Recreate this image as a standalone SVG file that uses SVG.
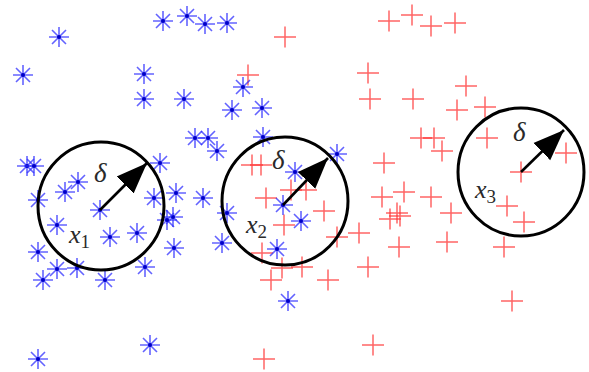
<svg xmlns="http://www.w3.org/2000/svg" xmlns:xlink="http://www.w3.org/1999/xlink" width="589" height="372" viewBox="0 0 589 372">
<style>
.ring{fill:none;stroke:#000;stroke-width:3}
.arr{stroke:#000;stroke-width:2.6;fill:none}
.lbl{font-family:"Liberation Serif","Times New Roman",serif;font-style:italic;fill:#2a2a2a}
.d{font-size:27px}
.x{font-size:26px}
.sub{font-style:normal;font-size:19px}
</style>
<defs>
<g id="s">
<path d="M-10,0H10M0,-10V10M-7,-7L7,7M-7,7L7,-7" stroke="#2f2fff" stroke-opacity="0.75" stroke-width="1.6" fill="none"/>
<circle r="2" fill="#0000c8"/>
</g>
<path id="p" d="M-11,0H11M0,-10.5V10.5" stroke="#ff3030" stroke-opacity="0.75" stroke-width="1.5" fill="none"/>
<marker id="ah" markerUnits="userSpaceOnUse" markerWidth="32" markerHeight="26" viewBox="0 0 32 26" refX="31" refY="13" orient="auto">
<path d="M0,1 L31,13 L0,25 Z" fill="#000"/>
</marker>
</defs>
<rect width="589" height="372" fill="#fff"/>
<g id="points-red">
<use xlink:href="#p" x="285" y="37"/>
<use xlink:href="#p" x="389" y="21"/>
<use xlink:href="#p" x="412" y="15"/>
<use xlink:href="#p" x="431" y="26"/>
<use xlink:href="#p" x="455" y="23"/>
<use xlink:href="#p" x="248" y="75"/>
<use xlink:href="#p" x="368" y="73"/>
<use xlink:href="#p" x="370" y="99"/>
<use xlink:href="#p" x="413" y="99"/>
<use xlink:href="#p" x="466" y="86"/>
<use xlink:href="#p" x="457" y="110"/>
<use xlink:href="#p" x="485" y="107"/>
<use xlink:href="#p" x="252" y="165"/>
<use xlink:href="#p" x="261" y="165"/>
<use xlink:href="#p" x="421" y="138"/>
<use xlink:href="#p" x="434" y="138"/>
<use xlink:href="#p" x="442" y="151"/>
<use xlink:href="#p" x="487" y="138"/>
<use xlink:href="#p" x="566" y="153"/>
<use xlink:href="#p" x="384" y="163"/>
<use xlink:href="#p" x="521" y="172"/>
<use xlink:href="#p" x="404" y="192"/>
<use xlink:href="#p" x="431" y="197"/>
<use xlink:href="#p" x="382" y="197"/>
<use xlink:href="#p" x="390" y="219"/>
<use xlink:href="#p" x="400" y="216"/>
<use xlink:href="#p" x="397" y="213"/>
<use xlink:href="#p" x="451" y="213"/>
<use xlink:href="#p" x="507" y="206"/>
<use xlink:href="#p" x="524" y="222"/>
<use xlink:href="#p" x="447" y="242"/>
<use xlink:href="#p" x="399" y="247"/>
<use xlink:href="#p" x="504" y="247"/>
<use xlink:href="#p" x="512" y="301"/>
<use xlink:href="#p" x="373" y="345"/>
<use xlink:href="#p" x="264" y="359"/>
<use xlink:href="#p" x="266" y="198"/>
<use xlink:href="#p" x="324" y="211"/>
<use xlink:href="#p" x="284" y="225"/>
<use xlink:href="#p" x="337" y="237"/>
<use xlink:href="#p" x="359" y="233"/>
<use xlink:href="#p" x="262" y="253"/>
<use xlink:href="#p" x="282" y="268"/>
<use xlink:href="#p" x="302" y="267"/>
<use xlink:href="#p" x="271" y="280"/>
<use xlink:href="#p" x="328" y="280"/>
<use xlink:href="#p" x="368" y="267"/>
<use xlink:href="#p" x="291" y="190"/>
<use xlink:href="#p" x="306" y="190"/>
</g>
<g id="points-blue">
<use xlink:href="#s" x="59" y="37"/>
<use xlink:href="#s" x="163" y="21"/>
<use xlink:href="#s" x="187" y="16"/>
<use xlink:href="#s" x="205" y="24"/>
<use xlink:href="#s" x="227" y="23"/>
<use xlink:href="#s" x="23" y="75"/>
<use xlink:href="#s" x="144" y="74"/>
<use xlink:href="#s" x="144" y="99"/>
<use xlink:href="#s" x="184" y="99"/>
<use xlink:href="#s" x="243" y="87"/>
<use xlink:href="#s" x="232" y="110"/>
<use xlink:href="#s" x="262" y="108"/>
<use xlink:href="#s" x="195" y="138"/>
<use xlink:href="#s" x="208" y="138"/>
<use xlink:href="#s" x="217" y="151"/>
<use xlink:href="#s" x="263" y="137"/>
<use xlink:href="#s" x="27" y="166"/>
<use xlink:href="#s" x="34" y="166"/>
<use xlink:href="#s" x="160" y="163"/>
<use xlink:href="#s" x="78" y="182"/>
<use xlink:href="#s" x="65" y="192"/>
<use xlink:href="#s" x="38" y="200"/>
<use xlink:href="#s" x="100" y="210"/>
<use xlink:href="#s" x="154" y="198"/>
<use xlink:href="#s" x="176" y="193"/>
<use xlink:href="#s" x="173" y="217"/>
<use xlink:href="#s" x="167" y="220"/>
<use xlink:href="#s" x="57" y="225"/>
<use xlink:href="#s" x="110" y="237"/>
<use xlink:href="#s" x="137" y="233"/>
<use xlink:href="#s" x="38" y="252"/>
<use xlink:href="#s" x="174" y="248"/>
<use xlink:href="#s" x="57" y="269"/>
<use xlink:href="#s" x="77" y="268"/>
<use xlink:href="#s" x="43" y="280"/>
<use xlink:href="#s" x="105" y="280"/>
<use xlink:href="#s" x="145" y="267"/>
<use xlink:href="#s" x="150" y="345"/>
<use xlink:href="#s" x="38" y="359"/>
<use xlink:href="#s" x="203" y="198"/>
<use xlink:href="#s" x="227" y="213"/>
<use xlink:href="#s" x="222" y="243"/>
<use xlink:href="#s" x="283" y="205"/>
<use xlink:href="#s" x="301" y="221"/>
<use xlink:href="#s" x="277" y="249"/>
<use xlink:href="#s" x="288" y="301"/>
<use xlink:href="#s" x="295" y="172"/>
<use xlink:href="#s" x="337" y="154"/>
</g>
<g id="node-x1">
<ellipse class="ring" cx="101" cy="206" rx="63" ry="64"/>
<text class="lbl d" x="94" y="182">δ</text>
<text class="lbl x" x="69" y="243">x<tspan class="sub" dy="5">1</tspan></text>
</g>
<g id="node-x2">
<ellipse class="ring" cx="285" cy="201" rx="63" ry="64"/>
<text class="lbl d" x="272" y="169">δ</text>
<text class="lbl x" x="246" y="233">x<tspan class="sub" dy="5">2</tspan></text>
</g>
<g id="node-x3">
<ellipse class="ring" cx="521" cy="172" rx="63" ry="64"/>
<text class="lbl d" x="513" y="141">δ</text>
<text class="lbl x" x="475" y="198">x<tspan class="sub" dy="5">3</tspan></text>
</g>
<g id="connectors">
<line class="arr" x1="100" y1="210" x2="147" y2="163" marker-end="url(#ah)"/>
<line class="arr" x1="283" y1="205" x2="328" y2="158" marker-end="url(#ah)"/>
<line class="arr" x1="521" y1="172" x2="564" y2="130" marker-end="url(#ah)"/>
</g>
</svg>
